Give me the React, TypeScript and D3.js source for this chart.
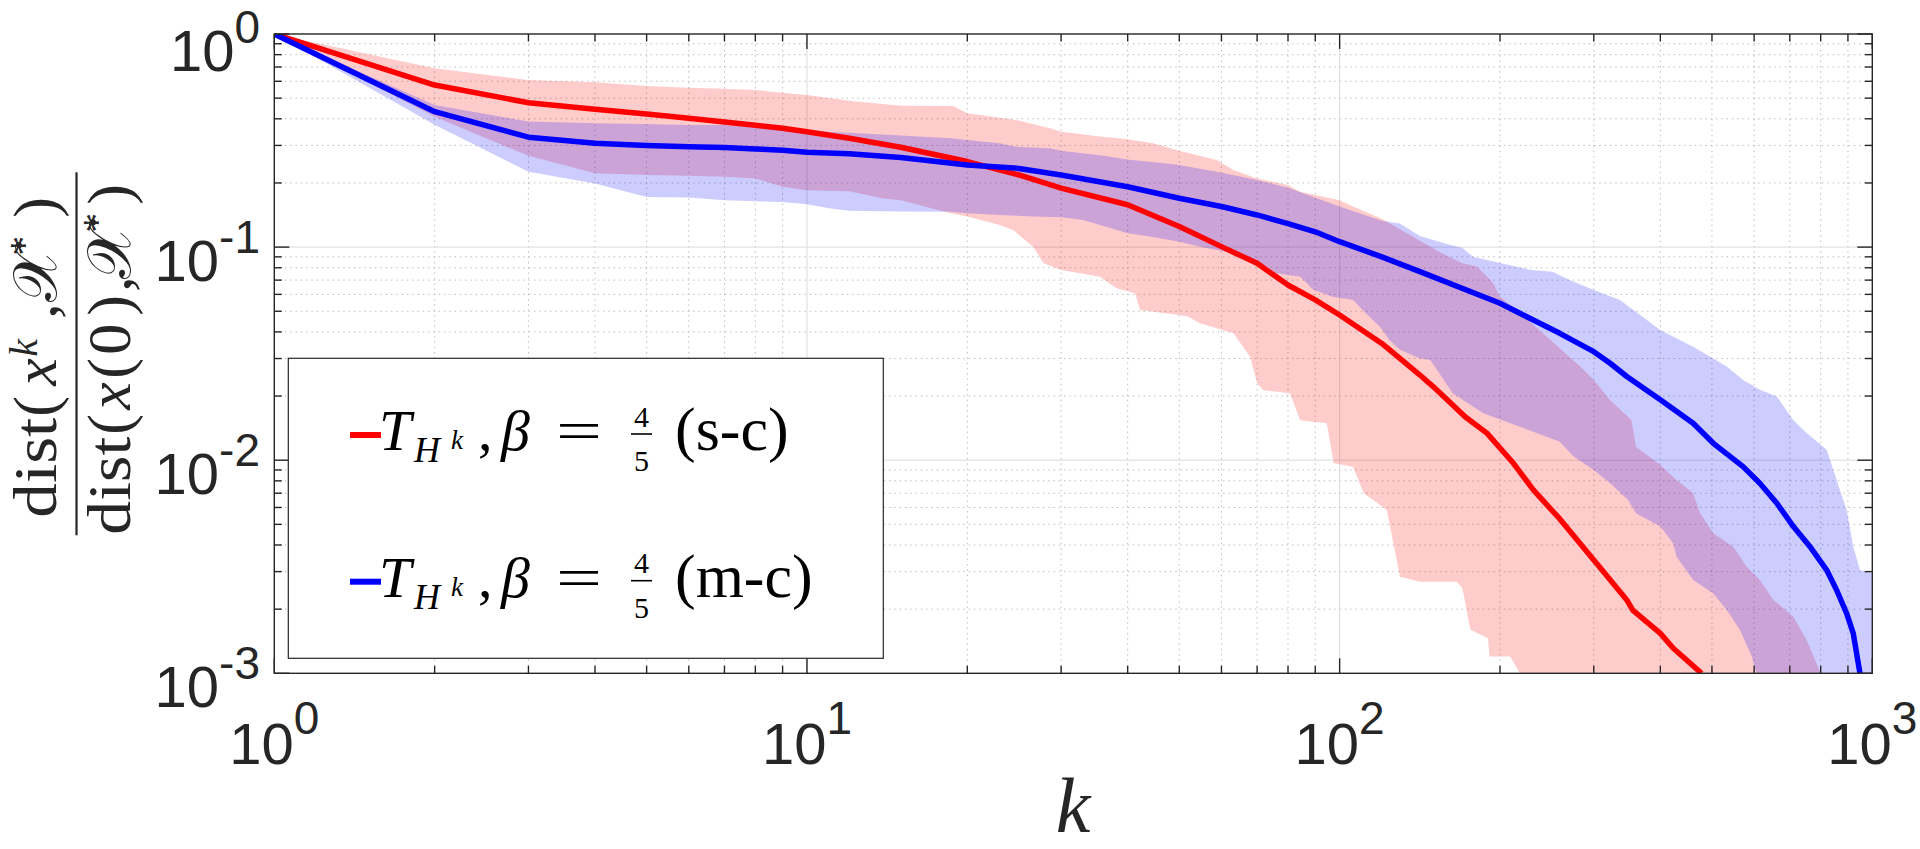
import React from "react";
import * as d3 from "d3";

// ---------- data ----------
const xTickValues = [1, 10, 100, 1000];
const xTickExps = ["0", "1", "2", "3"];
const yTickValues = [1, 0.1, 0.01, 0.001];
const yTickExps = ["0", "-1", "-2", "-3"];

const redMean: [number, number][] = [
  [1, 1], [2, 0.576], [3, 0.476], [4, 0.443], [5, 0.421], [6, 0.402], [7, 0.386], [8, 0.373], [9, 0.361],
  [10, 0.348], [12, 0.324], [15, 0.294], [20, 0.252], [25, 0.218], [30, 0.189], [40, 0.158], [50, 0.125],
  [60, 0.1005], [70, 0.0839], [80, 0.0664], [90, 0.0565], [100, 0.048], [120, 0.0353], [141.5, 0.0251],
  [150, 0.0221], [172, 0.016], [189, 0.0134], [212, 0.00967], [231, 0.00725], [259, 0.0053], [300, 0.0034],
  [346, 0.00221], [355, 0.00198], [400, 0.00154], [423, 0.00131], [478, 0.001],
];
const redUpper: [number, number][] = [
  [1, 1], [2, 0.69], [3, 0.608], [4, 0.593], [5, 0.57], [6, 0.56], [7, 0.554], [8, 0.546], [9, 0.53],
  [10, 0.517], [12, 0.486], [15, 0.461], [18.8, 0.459], [20, 0.425], [24.7, 0.395], [28.6, 0.361],
  [30, 0.348], [35.5, 0.33], [40, 0.321], [44.7, 0.307], [50, 0.283], [58.8, 0.256], [63.2, 0.23],
  [70, 0.21], [80, 0.1956], [84.3, 0.182], [100, 0.166], [106, 0.155], [120, 0.136], [141.5, 0.107],
  [155, 0.094], [170, 0.084], [181, 0.081], [194, 0.068], [200, 0.0585], [215, 0.0507], [259, 0.0335],
  [283, 0.0275], [300, 0.0238], [322, 0.0191], [353, 0.01545], [360, 0.01157], [400, 0.0095],
  [429, 0.00807], [461, 0.007], [475, 0.00563], [503, 0.00454], [548, 0.00393], [581, 0.00316],
  [615, 0.00274], [652, 0.00221], [711, 0.00184], [753, 0.00143], [800, 0.001],
];
const redLower: [number, number][] = [
  [1, 1], [2, 0.409], [3, 0.268], [4, 0.222], [5, 0.218], [6, 0.216], [7, 0.214], [8, 0.21], [9, 0.192],
  [10, 0.185], [12, 0.183], [13.9, 0.169], [15, 0.166], [18.6, 0.144], [20, 0.139], [23, 0.127],
  [24.4, 0.12], [26.6, 0.1004], [27.8, 0.0839], [30, 0.078], [35.5, 0.0726], [38.1, 0.0641],
  [41.3, 0.0607], [42.2, 0.0507], [50, 0.048], [52, 0.0471], [54.7, 0.0439], [63.2, 0.0394],
  [67.9, 0.0306], [70, 0.023], [71.9, 0.0213], [80.7, 0.0206], [84.3, 0.0154], [94.6, 0.0149],
  [97.4, 0.0097], [106, 0.0093], [111, 0.007], [122.6, 0.00584], [129.8, 0.00284], [141.5, 0.00269],
  [166, 0.00269], [170, 0.00251], [176, 0.0016], [190, 0.00146], [191, 0.0012], [209, 0.0012], [218, 0.001],
];
const blueMean: [number, number][] = [
  [1, 1], [2, 0.432], [3, 0.328], [4, 0.307], [5, 0.3], [6, 0.296], [7, 0.293], [8, 0.289], [9, 0.285],
  [10, 0.279], [12, 0.274], [15, 0.263], [20, 0.243], [25, 0.234], [30, 0.218], [40, 0.192], [50, 0.1695],
  [60, 0.155], [70, 0.1415], [80, 0.129], [90, 0.118], [100, 0.106], [120, 0.09], [141.5, 0.0767],
  [200, 0.0545], [259, 0.0394], [300, 0.0323], [322, 0.0285], [346, 0.0247], [400, 0.0192], [461, 0.0149],
  [503, 0.012], [572, 0.00933], [615, 0.0078], [662, 0.00628], [711, 0.00488], [764, 0.00393],
  [821, 0.00305], [857, 0.00246], [895, 0.00191], [921, 0.00154], [948, 0.001],
];
const blueUpper: [number, number][] = [
  [1, 1], [2, 0.464], [3, 0.388], [4, 0.381], [5, 0.378], [6, 0.374], [7, 0.374], [8, 0.367], [10, 0.354],
  [11, 0.348], [12, 0.344], [15, 0.334], [18.6, 0.324], [20, 0.318], [23, 0.307], [24.7, 0.296],
  [28.6, 0.291], [30, 0.283], [35.5, 0.27], [40, 0.258], [47.3, 0.247], [50, 0.243], [58.8, 0.226],
  [67.9, 0.21], [70, 0.2065], [80, 0.19], [100, 0.155], [120, 0.133], [129.7, 0.129], [141.5, 0.1127],
  [162, 0.102], [170, 0.099], [178, 0.0902], [200, 0.0842], [215, 0.0809], [229, 0.078], [251, 0.0767],
  [270, 0.07], [300, 0.0629], [336, 0.0565], [400, 0.0408], [435, 0.0366], [461, 0.0341], [533, 0.0275],
  [572, 0.0238], [615, 0.0214], [662, 0.0199], [711, 0.0154], [753, 0.0134], [821, 0.0112],
  [857, 0.00807], [895, 0.00584], [921, 0.00393], [948, 0.00305], [1000, 0.00295],
];
const blueLower: [number, number][] = [
  [1, 1], [2, 0.375], [3, 0.226], [4, 0.199], [5, 0.172], [6, 0.171], [7, 0.166], [8, 0.164], [9, 0.163],
  [10, 0.159], [11, 0.152], [12, 0.148], [15, 0.147], [18.6, 0.1466], [20, 0.144], [23, 0.1415],
  [26.6, 0.139], [30, 0.138], [33, 0.134], [35.5, 0.127], [40, 0.116], [44, 0.112], [50, 0.106],
  [54.7, 0.1004], [58.8, 0.097], [63.2, 0.0935], [73, 0.081], [76, 0.0753], [84.3, 0.0726], [89.2, 0.063],
  [97, 0.0585], [106, 0.0565], [112, 0.0489], [119, 0.0423], [124, 0.0366], [130, 0.0329], [141.5, 0.03],
  [148, 0.0295], [163, 0.0206], [186, 0.0166], [218, 0.01436], [259, 0.0122], [275, 0.0104], [300, 0.009],
  [322, 0.0078], [348, 0.0065], [360, 0.00563], [400, 0.00488], [423, 0.00407], [429, 0.00352],
  [461, 0.00274], [503, 0.00237], [533, 0.00198], [564, 0.0016], [594, 0.0012], [606, 0.001],
];

// ---------- layout ----------
const W = 1920;
const H = 849;
const L = 274.3, R = 1872.3, T = 34, B = 673.3;
const AX = "#262626";
const SANS = "'Liberation Sans', Arial, Helvetica, sans-serif";
const SERIF = "'Liberation Serif', 'Times New Roman', serif";

const x = d3.scaleLog().domain([1, 1000]).range([L, R]);
const y = d3.scaleLog().domain([1e-3, 1]).range([B, T]);

const minorX: number[] = [];
[1, 10, 100].forEach((d) => { for (let m = 2; m <= 9; m++) minorX.push(d * m); });
const minorY: number[] = [];
[0.001, 0.01, 0.1].forEach((d) => { for (let m = 2; m <= 9; m++) minorY.push(d * m); });

const lineGen = d3.line<[number, number]>().x((d) => x(d[0])).y((d) => y(Math.max(d[1], 1e-3)));

function bandPath(upper: [number, number][], lower: [number, number][]) {
  const yMin = 1e-3;
  const pts: [number, number][] = [
    ...upper,
    [upper[upper.length - 1][0], yMin],
    [lower[lower.length - 1][0], yMin],
    ...lower.slice().reverse(),
  ];
  return lineGen(pts) + "Z";
}

function LegendEntry({ base, color, tail }: { base: number; color: string; tail: string }) {
  return (
    <g fill="#000" fontFamily={SERIF}>
      <line x1={350} x2={381} y1={base - 15} y2={base - 15} stroke={color} strokeWidth={6} />
      <text x={379} y={base} fontSize={58} fontStyle="italic">T</text>
      <text x={414} y={base + 12} fontSize={36} fontStyle="italic">H</text>
      <text x={451} y={base - 1} fontSize={27} fontStyle="italic">k</text>
      <text x={478} y={base} fontSize={58}>,</text>
      <text x={501} y={base} fontSize={58} fontStyle="italic">β</text>
      <text x={556} y={base} fontSize={58} textLength={46} lengthAdjust="spacingAndGlyphs">=</text>
      <text x={641.5} y={base - 23.3} fontSize={30} textAnchor="middle">4</text>
      <line x1={631} x2={652} y1={base - 16} y2={base - 16} stroke="#000" strokeWidth={1.6} />
      <text x={641.5} y={base + 21} fontSize={30} textAnchor="middle">5</text>
      <text x={675} y={base} fontSize={62}>{tail}</text>
    </g>
  );
}

export default function App() {
  return (
    <svg width={W} height={H} style={{ position: "absolute", left: 0, top: 0, background: "#fff" }}>
      <defs>
        <clipPath id="plotclip">
          <rect x={L} y={T} width={R - L} height={B - T} />
        </clipPath>
      </defs>
      <rect x={0} y={0} width={W} height={H} fill="#fff" />

      {/* grid */}
      <g strokeWidth={1}>
        {minorX.map((v) => (
          <line key={"gx" + v} x1={x(v)} x2={x(v)} y1={T} y2={B} stroke="#bdbdbd" strokeDasharray="1.5,3.8" />
        ))}
        {minorY.map((v) => (
          <line key={"gy" + v} x1={L} x2={R} y1={y(v)} y2={y(v)} stroke="#bdbdbd" strokeDasharray="1.5,3.8" />
        ))}
        {[10, 100].map((v) => (
          <line key={"Gx" + v} x1={x(v)} x2={x(v)} y1={T} y2={B} stroke="#dcdcdc" />
        ))}
        {[0.1, 0.01].map((v) => (
          <line key={"Gy" + v} x1={L} x2={R} y1={y(v)} y2={y(v)} stroke="#dcdcdc" />
        ))}
      </g>

      {/* bands and lines */}
      <g clipPath="url(#plotclip)">
        <path d={bandPath(redUpper, redLower)} fill="rgb(255,0,0)" fillOpacity={0.2} stroke="none" />
        <path d={bandPath(blueUpper, blueLower)} fill="rgb(0,0,255)" fillOpacity={0.2} stroke="none" />
        <path d={lineGen(redMean) || ""} fill="none" stroke="#ff0000" strokeWidth={5.5} strokeLinejoin="round" />
        <path d={lineGen(blueMean) || ""} fill="none" stroke="#0000ff" strokeWidth={5.5} strokeLinejoin="round" />
      </g>

      {/* axes box and ticks */}
      <g stroke={AX} strokeWidth={1.4} fill="none">
        <rect x={L} y={T} width={R - L} height={B - T} />
        {xTickValues.map((v) => (
          <g key={"tx" + v}>
            <line x1={x(v)} x2={x(v)} y1={B} y2={B - 15} />
            <line x1={x(v)} x2={x(v)} y1={T} y2={T + 15} />
          </g>
        ))}
        {minorX.map((v) => (
          <g key={"mtx" + v}>
            <line x1={x(v)} x2={x(v)} y1={B} y2={B - 7.5} />
            <line x1={x(v)} x2={x(v)} y1={T} y2={T + 7.5} />
          </g>
        ))}
        {yTickValues.map((v) => (
          <g key={"ty" + v}>
            <line x1={L} x2={L + 15} y1={y(v)} y2={y(v)} />
            <line x1={R} x2={R - 15} y1={y(v)} y2={y(v)} />
          </g>
        ))}
        {minorY.map((v) => (
          <g key={"mty" + v}>
            <line x1={L} x2={L + 7.5} y1={y(v)} y2={y(v)} />
            <line x1={R} x2={R - 7.5} y1={y(v)} y2={y(v)} />
          </g>
        ))}
      </g>

      {/* tick labels */}
      <g fill={AX} fontFamily={SANS}>
        {xTickValues.map((v, i) => (
          <text key={"lx" + v} x={x(v)} y={764} textAnchor="middle">
            <tspan fontSize={58}>10</tspan>
            <tspan fontSize={46} dy={-30}>{xTickExps[i]}</tspan>
          </text>
        ))}
        {yTickValues.map((v, i) => (
          <text key={"ly" + v} x={260} y={Math.max(y(v) + 33.4, 70.5)} textAnchor="end">
            <tspan fontSize={58}>10</tspan>
            <tspan fontSize={46} dy={-28}>{yTickExps[i]}</tspan>
          </text>
        ))}
      </g>

      {/* x label */}
      <text x={1073} y={832} fontSize={78} fontStyle="italic" fontFamily={SERIF} fill={AX} textAnchor="middle">k</text>

      {/* y label (rotated fraction) */}
      <g transform={`translate(76.5,353.7) rotate(-90)`} fill={AX} fontFamily={SERIF}>
        <line x1={-181.5} x2={181.5} y1={0} y2={0} stroke={AX} strokeWidth={2.2} />
        {/* numerator */}
        <text x={-164} y={-20.3} fontSize={62} textLength={100} lengthAdjust="spacingAndGlyphs">dist</text>
        <text x={-63} y={-20.3} fontSize={62}>(</text>
        <text x={-32} y={-20.3} fontSize={62} fontStyle="italic">x</text>
        <text x={-3} y={-40} fontSize={40} fontStyle="italic">k</text>
        <text x={35} y={-20.3} fontSize={62}>,</text>
        <text x={52} y={-20.3} fontSize={62}>𝒳</text>
        <text x={98} y={-40} fontSize={40}>*</text>
        <text x={136} y={-20.3} fontSize={62}>)</text>
        {/* denominator */}
        <text x={-181} y={53.7} fontSize={62} textLength={98} lengthAdjust="spacingAndGlyphs">dist</text>
        <text x={-81} y={53.7} fontSize={62}>(</text>
        <text x={-56} y={53.7} fontSize={62} fontStyle="italic">x</text>
        <text x={-25} y={53.7} fontSize={62}>(</text>
        <text x={-1} y={53.7} fontSize={62}>0</text>
        <text x={38} y={53.7} fontSize={62}>)</text>
        <text x={62} y={53.7} fontSize={62}>,</text>
        <text x={75} y={53.7} fontSize={62}>𝒳</text>
        <text x={121} y={33} fontSize={40}>*</text>
        <text x={149} y={53.7} fontSize={62}>)</text>
      </g>

      {/* legend */}
      <rect x={288.3} y={358.3} width={595} height={300} fill="#fff" stroke={AX} strokeWidth={1.2} />
      <LegendEntry base={450} color="#ff0000" tail="(s-c)" />
      <LegendEntry base={596.7} color="#0000ff" tail="(m-c)" />
    </svg>
  );
}
